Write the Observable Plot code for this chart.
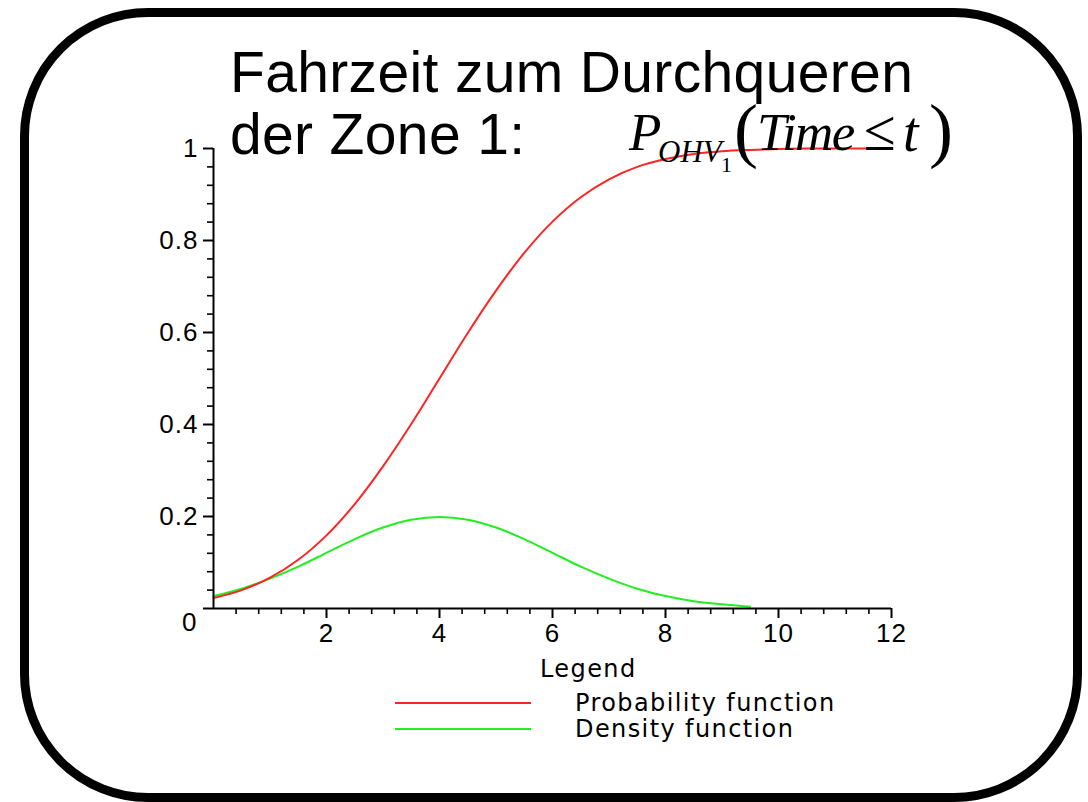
<!DOCTYPE html>
<html>
<head>
<meta charset="utf-8">
<script src="https://cdn.jsdelivr.net/npm/d3@7"></script>
<script src="https://cdn.jsdelivr.net/npm/@observablehq/plot@0.6"></script>
<style>
  html, body { margin: 0; padding: 0; background: #fff; }
  #wrap { position: relative; width: 1088px; height: 802px; overflow: hidden; background: #fff; }
  #chart { position: absolute; left: 0; top: 0; }
  .abs { position: absolute; white-space: nowrap; line-height: 1; color: #000; }
  .title { font-family: "Liberation Sans", Arial, sans-serif; font-size: 57px; letter-spacing: 0.35px; }
  .leg { font-family: "DejaVu Sans", sans-serif; font-size: 24px; letter-spacing: 1.4px; }
  .serif { font-family: "Liberation Serif", "Times New Roman", serif; }
  .it { font-style: italic; }
  #border { position: absolute; left: 20px; top: 8px; width: 1062px; height: 794px; box-sizing: border-box;
            border: 9px solid #000; border-radius: 128px; pointer-events: none; }
</style>
</head>
<body>
<div id="wrap">
  <div id="chart"></div>
  <div id="border"></div>
  <div class="abs title" style="left:230px; top:44px;">Fahrzeit zum Durchqueren</div>
  <div class="abs title" style="left:230px; top:106px;">der Zone 1:</div>
  <!-- formula P_{OHV_1}(Time ≤ t) -->
  <div class="abs serif it" style="left:629px; top:106px; font-size:53px;">P</div>
  <div class="abs serif it" style="left:658px; top:136px; font-size:31px;">OHV</div>
  <div class="abs serif" style="left:721px; top:154px; font-size:22px;">1</div>
  <div class="abs serif" style="left:734px; top:94px; font-size:72px;">(</div>
  <div class="abs serif it" style="left:757px; top:106px; font-size:53px; letter-spacing:-1.6px;">Time</div>
  <div class="abs serif" style="left:864px; top:102px; font-size:58px;">≤</div>
  <div class="abs serif it" style="left:903px; top:104px; font-size:56px;">t</div>
  <div class="abs serif" style="left:929px; top:94px; font-size:72px;">)</div>
  <!-- legend -->
  <div class="abs leg" style="left:540px; top:657px;">Legend</div>
  <div class="abs" id="legRed" style="left:395px; top:702px; width:136px; height:2px;"></div>
  <div class="abs" id="legGreen" style="left:395px; top:728px; width:136px; height:2px;"></div>
  <div class="abs leg" id="legText0" style="left:575px; top:691px;"></div>
  <div class="abs leg" id="legText1" style="left:575px; top:717px;"></div>
</div>
<script>
// ---- data ----
const probTimes = [0, 0.5, 1, 1.5, 2, 2.5, 3, 3.5, 4, 4.5, 5, 5.5, 6, 6.5, 7, 7.5, 8, 8.5, 9, 9.5, 10, 10.5, 11, 11.5, 12];
const probValues = [0.023, 0.040, 0.067, 0.106, 0.159, 0.227, 0.309, 0.401, 0.500, 0.599, 0.691, 0.773, 0.841, 0.894, 0.933, 0.960, 0.977, 0.988, 0.994, 0.997, 0.999, 1.0, 1.0, 1.0, 1.0];
const densTimes = [0, 0.5, 1, 1.5, 2, 2.5, 3, 3.5, 4, 4.5, 5, 5.5, 6, 6.5, 7, 7.5, 8, 8.5, 9, 9.5];
const densValues = [0.027, 0.043, 0.065, 0.091, 0.121, 0.151, 0.176, 0.193, 0.199, 0.193, 0.176, 0.151, 0.121, 0.091, 0.065, 0.043, 0.027, 0.016, 0.009, 0.004];

const seriesNames = ["Probability function", "Density function"];
const seriesColors = ["#ff2424", "#22ee22"];

const xTicks = [2, 4, 6, 8, 10, 12];
const xTickLabels = ["2", "4", "6", "8", "10", "12"];
const xMinorTicks = [0.4, 0.8, 1.2, 1.6, 2.4, 2.8, 3.2, 3.6, 4.4, 4.8, 5.2, 5.6, 6.4, 6.8, 7.2, 7.6, 8.4, 8.8, 9.2, 9.6, 10.4, 10.8, 11.2, 11.6];
const yTicks = [0.2, 0.4, 0.6, 0.8, 1];
const yTickLabels = ["0.2", "0.4", "0.6", "0.8", "1"];
const yZeroLabel = ["0"];
const yMinorTicks = [0.04, 0.08, 0.12, 0.16, 0.24, 0.28, 0.32, 0.36, 0.44, 0.48, 0.52, 0.56, 0.64, 0.68, 0.72, 0.76, 0.84, 0.88, 0.92, 0.96];

const probData = probTimes.map((t, i) => ({t, v: probValues[i]}));
const densData = densTimes.map((t, i) => ({t, v: densValues[i]}));
const xLabelMap = new Map(xTicks.map((d, i) => [d, xTickLabels[i]]));
const yLabelMap = new Map(yTicks.map((d, i) => [d, yTickLabels[i]]));

document.getElementById("legRed").style.background = seriesColors[0];
document.getElementById("legGreen").style.background = seriesColors[1];
document.getElementById("legText0").textContent = seriesNames[0];
document.getElementById("legText1").textContent = seriesNames[1];

const chart = Plot.plot({
  width: 1088,
  height: 802,
  marginLeft: 213,
  marginRight: 197,
  marginTop: 148,
  marginBottom: 194,
  x: {domain: [0, 12]},
  y: {domain: [0, 1]},
  style: {fontFamily: "Liberation Sans, Arial, sans-serif", fontSize: "26px", letterSpacing: "1px", color: "#000", background: "transparent", overflow: "visible"},
  marks: [
    Plot.line(densData, {x: "t", y: "v", stroke: seriesColors[1], strokeWidth: 2, curve: "catmull-rom"}),
    Plot.line(probData, {x: "t", y: "v", stroke: seriesColors[0], strokeWidth: 2, curve: "catmull-rom"}),
    Plot.axisY(yTicks, {anchor: "left", tickSize: 10, tickPadding: 5, strokeWidth: 2, label: null, tickFormat: d => yLabelMap.get(d)}),
    Plot.axisY([0], {anchor: "left", tickSize: 10, strokeWidth: 2, label: null, text: null}),
    Plot.axisY(yMinorTicks, {anchor: "left", tickSize: 6, strokeWidth: 1.6, label: null, text: null}),
    Plot.text(yZeroLabel, {x: 0, y: 0, text: d => d, dx: -16, dy: 14, textAnchor: "end", fill: "#000"}),
    Plot.axisX(xTicks, {anchor: "bottom", tickSize: 10, tickPadding: 5, strokeWidth: 2, label: null, tickFormat: d => xLabelMap.get(d)}),
    Plot.axisX(xMinorTicks, {anchor: "bottom", tickSize: 6, strokeWidth: 1.6, label: null, text: null}),
    Plot.ruleY([0], {stroke: "#000", strokeWidth: 2}),
    Plot.ruleX([0], {stroke: "#000", strokeWidth: 2})
  ]
});
document.getElementById("chart").appendChild(chart);
</script>
</body>
</html>
